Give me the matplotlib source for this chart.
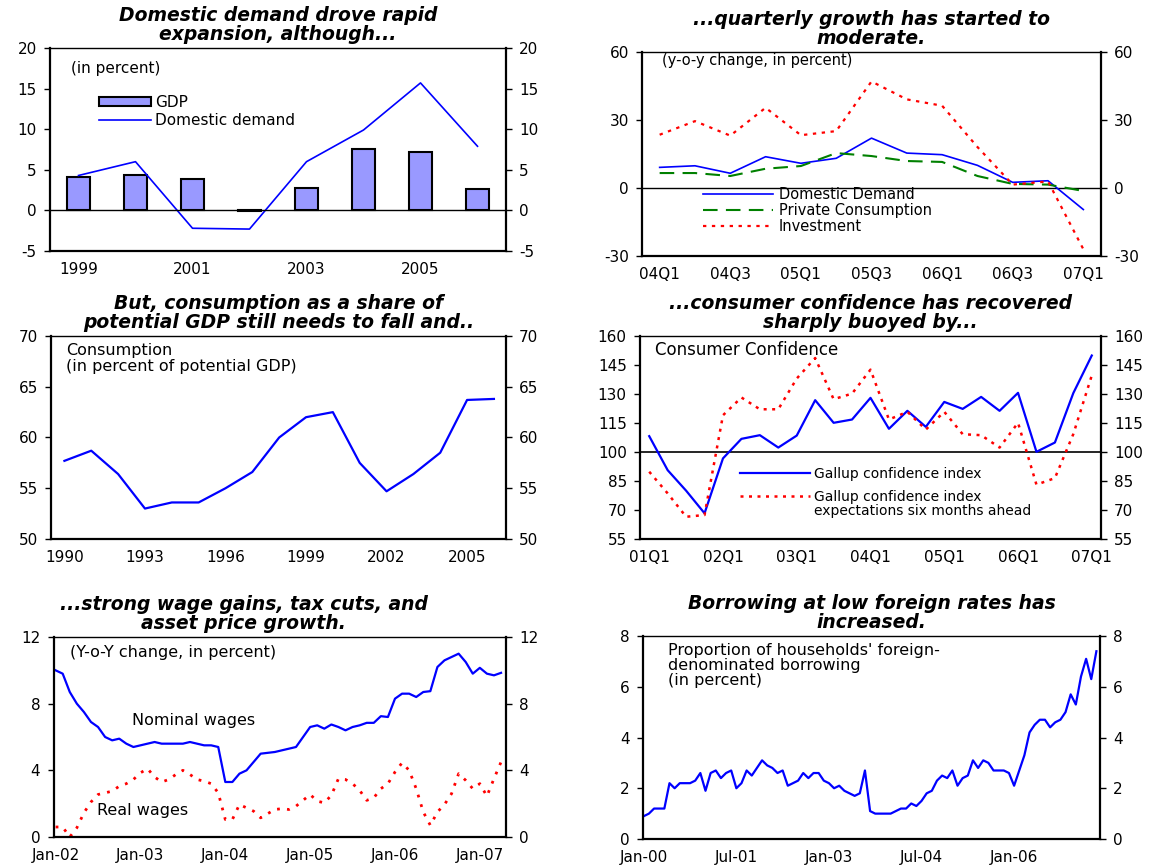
import matplotlib
matplotlib.use("Agg")
import matplotlib.pyplot as plt
from matplotlib.patches import Patch
from matplotlib.lines import Line2D

plt.rcParams["axes.unicode_minus"] = False

BLUE = "#0000FF"
RED = "#FF0000"
GREEN = "#008000"
BAR = "#9999FF"

# --- panel 1: annual growth
years_a = ["1999", "2000", "2001", "2002", "2003", "2004", "2005", "2006"]
gdp = [4.1, 4.4, 3.9, -0.1, 2.7, 7.6, 7.2, 2.6]
dom_demand = [4.3, 6.0, -2.2, -2.3, 6.0, 9.9, 15.7, 7.9]

# --- panel 2: quarterly y-o-y growth
quarters_b = ["04Q1", "04Q2", "04Q3", "04Q4", "05Q1", "05Q2", "05Q3",
              "05Q4", "06Q1", "06Q2", "06Q3", "06Q4", "07Q1"]
dd_q = [9.1, 9.8, 6.5, 13.8, 10.9, 13.1, 22.0, 15.4, 14.7, 10.0, 2.5, 3.2, -9.5]
pc_q = [6.6, 6.6, 5.3, 8.5, 9.7, 15.4, 14.1, 11.9, 11.5, 5.3, 1.8, 1.5, -1.3]
inv_q = [23.5, 29.5, 23.1, 35.4, 23.3, 25.1, 47.0, 39.1, 36.3, 18.1, 1.5, 2.9, -27.0]

# --- panel 3: consumption share of potential GDP
years_c = ["1990", "1991", "1992", "1993", "1994", "1995", "1996", "1997", "1998",
           "1999", "2000", "2001", "2002", "2003", "2004", "2005", "2006"]
cons_share = [57.7, 58.7, 56.4, 53.0, 53.6, 53.6, 55.0, 56.6, 60.0,
              62.0, 62.5, 57.5, 54.7, 56.4, 58.5, 63.7, 63.8]

# --- panel 4: consumer confidence, quarterly 01Q1-07Q1
quarters_d = [f"{y:02d}Q{q}" for y in range(1, 7) for q in range(1, 5)] + ["07Q1"]
conf_idx = [108.2, 90.6, 80.0, 68.3, 96.7, 106.8, 108.7, 102.3, 108.5, 126.8,
            115.1, 116.8, 128.0, 112.0, 121.3, 113.0, 125.9, 122.3, 128.5, 121.3,
            130.6, 100.1, 104.9, 130.5, 149.9]
conf_exp = [89.8, 78.6, 66.5, 67.4, 119.0, 128.2, 122.1, 122.1, 138.0, 148.6,
            127.3, 130.2, 142.6, 116.8, 120.8, 111.6, 120.8, 109.2, 108.7, 102.3,
            115.1, 83.1, 86.5, 109.3, 139.6]

# --- panel 5: wages, monthly Jan-02 .. Apr-07
wage_ticklabels = ["Jan-02", "Jan-03", "Jan-04", "Jan-05", "Jan-06", "Jan-07"]
nominal_wages = [10.0, 9.8, 8.7, 8.0, 7.5, 6.9, 6.6, 6.0, 5.8, 5.9, 5.6, 5.4,
                 5.5, 5.6, 5.7, 5.6, 5.6, 5.6, 5.6, 5.7, 5.6, 5.5, 5.5, 5.4,
                 3.3, 3.3, 3.8, 4.0, 4.5, 5.0, 5.05, 5.1, 5.2, 5.3, 5.4, 6.0,
                 6.6, 6.7, 6.5, 6.75, 6.6, 6.4, 6.6, 6.7, 6.85, 6.85, 7.25, 7.2,
                 8.3, 8.6, 8.6, 8.4, 8.7, 8.75, 10.2, 10.6, 10.8, 11.0, 10.5, 9.8,
                 10.15, 9.8, 9.7, 9.85]
real_wages = [0.6, 0.6, 0.0, 0.55, 1.45, 2.1, 2.55, 2.65, 2.75, 3.05, 3.2, 3.45,
              3.85, 4.1, 3.6, 3.3, 3.45, 3.75, 4.0, 3.75, 3.45, 3.35, 3.2, 2.65,
              1.05, 1.05, 1.95, 1.75, 1.55, 1.15, 1.4, 1.65, 1.7, 1.65, 1.85, 2.2,
              2.55, 2.15, 2.05, 2.5, 3.5, 3.45, 3.2, 2.8, 2.2, 2.35, 2.9, 3.2,
              3.9, 4.45, 4.0, 2.9, 1.5, 0.7, 1.5, 1.95, 2.6, 3.8, 3.4, 2.9,
              3.2, 2.45, 3.5, 4.5]

# --- panel 6: foreign-currency borrowing, monthly Jan-00 .. May-07
borrow_ticklabels = ["Jan-00", "Jul-01", "Jan-03", "Jul-04", "Jan-06"]
foreign_borrowing = [0.9, 1.0, 1.2, 1.2, 1.2, 2.2, 2.0, 2.2, 2.2, 2.2, 2.3, 2.6,
                     1.9, 2.6, 2.7, 2.4, 2.6, 2.7, 2.0, 2.2, 2.7, 2.5, 2.8, 3.1,
                     2.9, 2.8, 2.6, 2.7, 2.1, 2.2, 2.3, 2.6, 2.4, 2.6, 2.6, 2.3,
                     2.2, 2.0, 2.1, 1.9, 1.8, 1.7, 1.8, 2.7, 1.1, 1.0, 1.0, 1.0,
                     1.0, 1.1, 1.2, 1.2, 1.4, 1.3, 1.5, 1.8, 1.9, 2.3, 2.5, 2.4,
                     2.7, 2.1, 2.4, 2.5, 3.1, 2.8, 3.1, 3.0, 2.7, 2.7, 2.7, 2.6,
                     2.1, 2.7, 3.3, 4.2, 4.5, 4.7, 4.7, 4.4, 4.6, 4.7, 5.0, 5.7,
                     5.3, 6.4, 7.1, 6.3, 7.4]

TICK_FS = 11
TITLE_FS = 13.5
TEXT_FS = 11

W, H = 1159, 865
fig = plt.figure(figsize=(W / 100, H / 100), dpi=100)


def make_ax(left, top, right, bottom):
    return fig.add_axes([left / W, 1 - bottom / H, (right - left) / W, (bottom - top) / H])


def style(ax, ylim, yticks, title, title_x=0.5):
    ax.set_ylim(*ylim)
    ax.set_yticks(yticks)
    ax.tick_params(axis="y", left=True, right=True, labelleft=True, labelright=True,
                   direction="out", length=4.5, width=1, labelsize=TICK_FS, pad=5)
    ax.tick_params(axis="x", length=0, pad=8, labelsize=TICK_FS)
    for s in ["left", "right", "bottom"]:
        ax.spines[s].set_linewidth(1.6)
    ax.spines["top"].set_linewidth(1.0)
    ax.set_title(title, fontsize=TITLE_FS, fontweight="bold", fontstyle="italic",
                 linespacing=0.95, pad=6, x=title_x)


# panel 1
ax1 = make_ax(50, 48, 506, 251)
x = range(len(years_a))
ax1.bar(x, gdp, width=0.42, color=BAR, edgecolor="black", linewidth=1.5)
ax1.plot(x, dom_demand, color=BLUE, lw=1.2)
ax1.axhline(0, color="black", lw=1)
ax1.set_xlim(-0.5, 7.5)
ax1.set_xticks([0, 2, 4, 6])
ax1.set_xticklabels(years_a[::2])
style(ax1, (-5, 20), [-5, 0, 5, 10, 15, 20], "Domestic demand drove rapid\nexpansion, although...")
ax1.text(0.045, 0.90, "(in percent)", transform=ax1.transAxes, fontsize=TEXT_FS, va="center")
h1 = [Patch(facecolor=BAR, edgecolor="black", linewidth=1.5),
      Line2D([], [], color=BLUE, lw=1.2)]
ax1.legend(h1, ["GDP", "Domestic demand"], loc="center left", bbox_to_anchor=(0.107, 0.686),
           frameon=False, fontsize=TEXT_FS, handlelength=3.4, handleheight=0.5,
           handletextpad=0.3, labelspacing=0.2, borderpad=0, borderaxespad=0)

# panel 2
ax2 = make_ax(642, 52, 1101, 256)
x = range(len(quarters_b))
ax2.axhline(0, color="black", lw=1)
ax2.plot(x, dd_q, color=BLUE, lw=1.2, label="Domestic Demand")
ax2.plot(x, pc_q, color=GREEN, lw=1.5, ls=(0, (7, 4)), label="Private Consumption")
ax2.plot(x, inv_q, color=RED, lw=1.6, ls=(0, (1.5, 2.5)), label="Investment")
ax2.set_xlim(-0.5, 12.5)
ax2.set_xticks(range(0, 13, 2))
ax2.set_xticklabels(quarters_b[::2])
style(ax2, (-30, 60), [-30, 0, 30, 60], "...quarterly growth has started to\nmoderate.")
ax2.text(0.044, 0.958, "(y-o-y change, in percent)", transform=ax2.transAxes,
         fontsize=10.5, va="center")
ax2.legend(loc="center left", bbox_to_anchor=(0.133, 0.223), frameon=False, fontsize=10.5,
           handlelength=4.8, handletextpad=0.4, labelspacing=0.05, borderpad=0, borderaxespad=0)

# panel 3
ax3 = make_ax(51, 336, 506, 539)
x = range(len(years_c))
ax3.plot(x, cons_share, color=BLUE, lw=1.6)
ax3.set_xlim(-0.5, 16.45)
ax3.set_xticks(range(0, 17, 3))
ax3.set_xticklabels(years_c[::3])
style(ax3, (50, 70), [50, 55, 60, 65, 70],
      "But, consumption as a share of\npotential GDP still needs to fall and..")
ax3.text(0.033, 0.965, "Consumption\n(in percent of potential GDP)", transform=ax3.transAxes,
         fontsize=11.5, va="top", linespacing=1.05)

# panel 4
ax4 = make_ax(640, 336, 1101, 539)
x = range(len(quarters_d))
ax4.axhline(100, color="black", lw=1.2)
ax4.plot(x, conf_idx, color=BLUE, lw=1.6, label="Gallup confidence index")
ax4.plot(x, conf_exp, color=RED, lw=1.8, ls=(0, (1.2, 2.2)), label="Gallup confidence index")
ax4.set_xlim(-0.5, 24.5)
ax4.set_xticks(range(0, 25, 4))
ax4.set_xticklabels(quarters_d[::4])
style(ax4, (55, 160), list(range(55, 161, 15)),
      "...consumer confidence has recovered\nsharply buoyed by...")
ax4.text(0.033, 0.933, "Consumer Confidence", transform=ax4.transAxes, fontsize=12, va="center")
ax4.legend(loc="upper left", bbox_to_anchor=(0.218, 0.355), frameon=False, fontsize=10,
           handlelength=5.0, handletextpad=0.3, labelspacing=0.62, borderpad=0, borderaxespad=0)
ax4.text(0.377, 0.138, "expectations six months ahead", transform=ax4.transAxes,
         fontsize=10, va="center")

# panel 5
ax5 = make_ax(53.5, 637, 506, 837)
x = range(len(nominal_wages))
ax5.plot(x, nominal_wages, color=BLUE, lw=1.6)
ax5.plot(x, real_wages, color=RED, lw=2.0, ls=(0, (1.0, 2.6)))
ax5.set_xlim(-0.3, 63.7)
ax5.set_xticks(range(0, 61, 12))
ax5.set_xticklabels(wage_ticklabels)
style(ax5, (0, 12), [0, 4, 8, 12],
      "...strong wage gains, tax cuts, and\nasset price growth.", title_x=0.42)
ax5.text(0.036, 0.92, "(Y-o-Y change, in percent)", transform=ax5.transAxes,
         fontsize=11.5, va="center")
ax5.text(0.174, 0.585, "Nominal wages", transform=ax5.transAxes, fontsize=11.5, va="center")
ax5.text(0.096, 0.133, "Real wages", transform=ax5.transAxes, fontsize=11.5, va="center")

# panel 6
ax6 = make_ax(643, 636, 1100, 839)
x = range(len(foreign_borrowing))
ax6.plot(x, foreign_borrowing, color=BLUE, lw=1.6)
ax6.set_xlim(-0.15, 88.7)
ax6.set_xticks(range(0, 73, 18))
ax6.set_xticklabels(borrow_ticklabels)
style(ax6, (0, 8), [0, 2, 4, 6, 8], "Borrowing at low foreign rates has\nincreased.")
ax6.text(0.055, 0.965, "Proportion of households' foreign-\ndenominated borrowing\n(in percent)",
         transform=ax6.transAxes, fontsize=11.5, va="top", linespacing=1.0)

fig.savefig("out.png", dpi=100)
